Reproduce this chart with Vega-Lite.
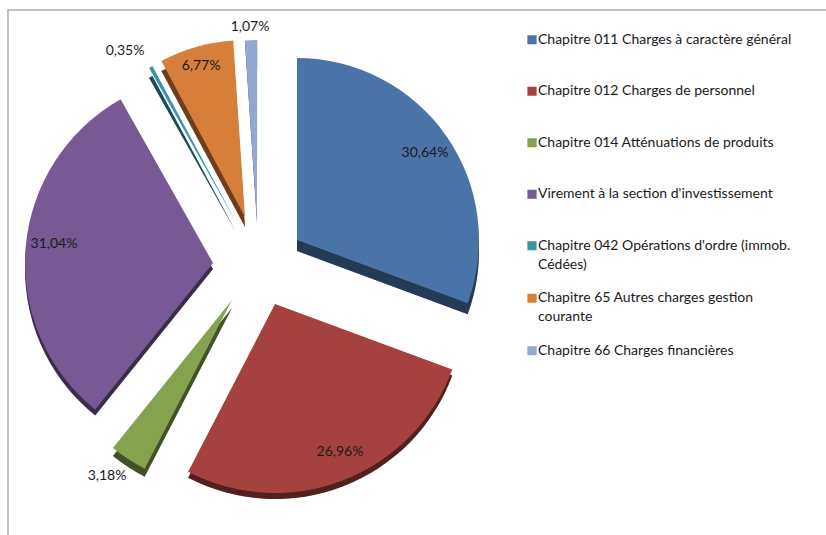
{"$schema":"https://vega.github.io/schema/vega-lite/v6.json","width":820,"height":530,"autosize":"none","padding":{"left":8,"top":10,"right":0,"bottom":0},"background":"white","view":{"stroke":"#adadad","strokeWidth":1.5},"data":{"values":[{"n":1,"chapitre":"Chapitre 011 Charges à caractère général","value":30.64,"label":"30,64%"},{"n":2,"chapitre":"Chapitre 012 Charges de personnel","value":26.96,"label":"26,96%"},{"n":3,"chapitre":"Chapitre 014 Atténuations de produits","value":3.18,"label":"3,18%"},{"n":4,"chapitre":"Virement à la section d'investissement","value":31.04,"label":"31,04%"},{"n":5,"chapitre":"Chapitre 042 Opérations d'ordre (immob. Cédées)","value":0.35,"label":"0,35%"},{"n":6,"chapitre":"Chapitre 65 Autres charges gestion courante","value":6.77,"label":"6,77%"},{"n":7,"chapitre":"Chapitre 66 Charges financières","value":1.07,"label":"1,07%"}]},"transform":[{"stack":"value","sort":[{"field":"n","order":"ascending"}],"as":["v0","v1"]}],"encoding":{"x":{"field":"n","type":"quantitative","axis":null,"scale":{"domain":[1,2,3,4,5,6,7],"range":[289,267,224,205,228,237,249]}},"y":{"field":"n","type":"quantitative","axis":null,"scale":{"domain":[1,2,3,4,5,6,7],"range":[230,294,290,253,212,207,212]}},"theta":{"field":"v0","type":"quantitative","scale":{"domain":[0,100],"range":[0,6.28319]}},"theta2":{"field":"v1"},"radius":{"field":"n","type":"quantitative","legend":null,"scale":{"type":"linear","domain":[1,2,3,4,5,6,7],"range":[182,189,190,188,177,177,182]}},"radius2":{"value":0},"color":{"field":"chapitre","type":"nominal","sort":null,"scale":{"domain":["Chapitre 011 Charges à caractère général","Chapitre 012 Charges de personnel","Chapitre 014 Atténuations de produits","Virement à la section d'investissement","Chapitre 042 Opérations d'ordre (immob. Cédées)","Chapitre 65 Autres charges gestion courante","Chapitre 66 Charges financières"],"range":["#4a74a8","#a5423f","#85a24f","#775a95","#3a93ad","#d67f3a","#92a8d0"]},"legend":{"orient":"none","legendX":517,"legendY":4.75,"title":null,"symbolType":"square","symbolSize":85,"symbolStrokeWidth":0,"labelFont":"Lato","labelFontSize":14,"labelColor":"#1a1a1a","labelLimit":320,"labelOffset":-1,"rowPadding":1.5,"clipHeight":50,"encode":{"labels":{"update":{"lineHeight":{"value":19}}}},"labelExpr":"datum.label=='Chapitre 042 Opérations d\\'ordre (immob. Cédées)'?['Chapitre 042 Opérations d\\'ordre (immob.','Cédées)']:datum.label=='Chapitre 65 Autres charges gestion courante'?['Chapitre 65 Autres charges gestion','courante']:datum.label"}}},"layer":[{"layer":[{"mark":{"type":"arc"}},{"mark":{"type":"arc","fill":"#000000","fillOpacity":0.5},"encoding":{"color":{"value":"#000000"}}}],"encoding":{"y":{"field":"n","type":"quantitative","axis":null,"scale":{"domain":[1,2,3,4,5,6,7],"range":[241,300,298,259,222,217,213]}}}},{"mark":{"type":"arc"}},{"mark":{"type":"text","font":"Lato","fontSize":14,"color":"#1a1a1a"},"encoding":{"theta":null,"theta2":null,"radius":null,"radius2":null,"color":null,"text":{"field":"label"},"x":{"field":"n","type":"quantitative","axis":null,"scale":{"domain":[1,2,3,4,5,6,7],"range":[417,332,99,46,117,193,242]}},"y":{"field":"n","type":"quantitative","axis":null,"scale":{"domain":[1,2,3,4,5,6,7],"range":[143,442,466,234,41,56,17]}}}}],"resolve":{"scale":{"x":"independent","y":"independent"}}}
